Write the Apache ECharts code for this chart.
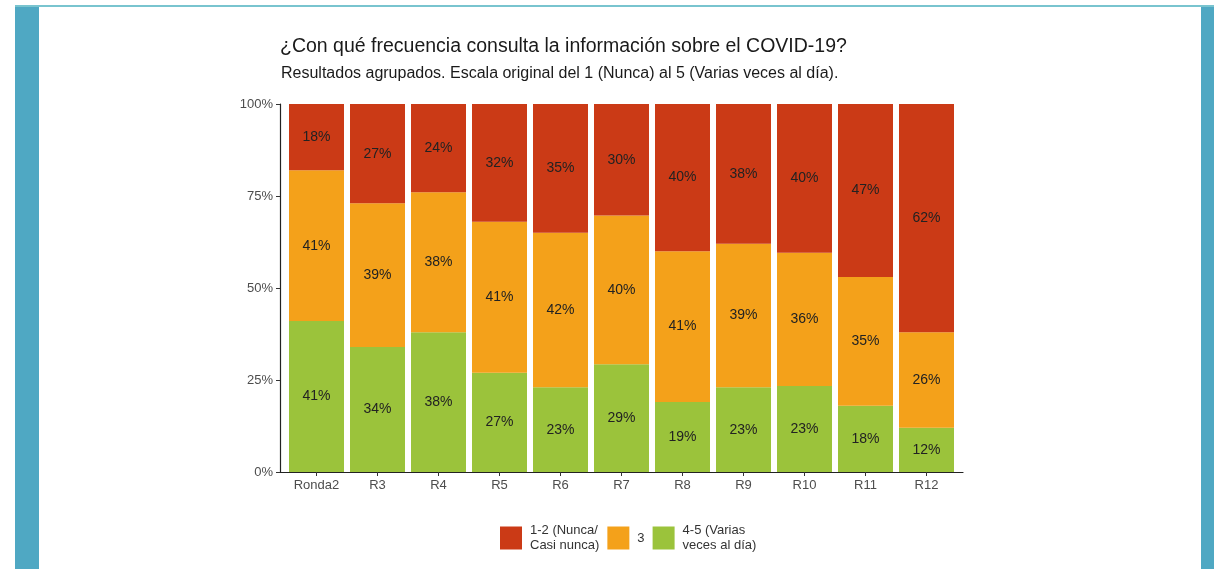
<!DOCTYPE html>
<html>
<head>
<meta charset="utf-8">
<script src="https://cdn.jsdelivr.net/npm/echarts@6/dist/echarts.min.js"></script>
<style>
  html, body { margin: 0; padding: 0; background: #ffffff; }
  #wrap { position: relative; width: 1214px; height: 569px; overflow: hidden; background: #fff; }
  .fr { position: absolute; }
  #chart { position: absolute; left: 0; top: 0; width: 1214px; height: 569px; }
</style>
</head>
<body>
<div id="wrap">
  <div class="fr" style="left:15px;top:5px;width:1199px;height:2px;background:#79c4cf;"></div>
  <div class="fr" style="left:15px;top:7px;width:24px;height:562px;background:#4fa8c3;"></div>
  <div class="fr" style="left:1201px;top:7px;width:13px;height:562px;background:#4fa8c3;"></div>
  <div id="chart"></div>
</div>
<script>
const categories = ['Ronda2', 'R3', 'R4', 'R5', 'R6', 'R7', 'R8', 'R9', 'R10', 'R11', 'R12'];
const seriesNames = ['1-2 (Nunca/\nCasi nunca)', '3', '4-5 (Varias\nveces al día)'];
const valuesHigh = [41, 34, 38, 27, 23, 29.3, 19, 23, 23.4, 18, 12];   // 4-5
const valuesMid  = [41, 39, 38, 41, 42, 40.4, 41, 39, 36.2, 35, 26];   // 3
const valuesLow  = [18, 27, 24, 32, 35, 30.3, 40, 38, 40.4, 47, 62];   // 1-2
const yTicks = [0, 25, 50, 75, 100];

const colors = { low: '#cb3a16', mid: '#f4a11a', high: '#9bc33b' };
const font = 'Liberation Sans, Arial, sans-serif';

const chart = echarts.init(document.getElementById('chart'), null, { renderer: 'canvas' });
const lbl = {
  show: true, position: 'inside', fontSize: 14, color: '#222', fontFamily: font,
  formatter: p => Math.round(p.value) + '%'
};

chart.setOption({
  animation: false,
  title: [
    { text: '¿Con qué frecuencia consulta la información sobre el COVID-19?', left: 280, top: 37, padding: 0,
      textStyle: { fontSize: 19.5, fontWeight: 'normal', color: '#1a1a1a', fontFamily: font } },
    { text: 'Resultados agrupados. Escala original del 1 (Nunca) al 5 (Varias veces al día).', left: 281, top: 66, padding: 0,
      textStyle: { fontSize: 16, fontWeight: 'normal', color: '#1a1a1a', fontFamily: font } }
  ],
  legend: {
    data: [seriesNames[0], seriesNames[1], seriesNames[2]],
    left: 495, top: 518, orient: 'horizontal',
    itemWidth: 22, itemHeight: 23, itemGap: 8, icon: 'rect',
    textStyle: { fontSize: 13, lineHeight: 15, color: '#333', fontFamily: font, padding: [0, 0, 0, 3] }
  },
  grid: [
    { left: 286, right: 257, top: 104, bottom: 97 },
    { left: 280, right: 251, top: 104, bottom: 97 }
  ],
  xAxis: [
    {
      type: 'category', data: categories, gridIndex: 0,
      axisLine: { show: false },
      axisTick: { show: true, alignWithLabel: true, length: 4, lineStyle: { color: '#333' } },
      axisLabel: { fontSize: 13, color: '#4d4d4d', margin: 7, fontFamily: font }
    },
    {
      type: 'value', gridIndex: 1, min: 0, max: 1, position: 'bottom',
      splitLine: { show: false }, axisTick: { show: false }, axisLabel: { show: false },
      axisLine: { show: true, lineStyle: { color: '#222', width: 1.2 } }
    }
  ],
  yAxis: [
    {
      type: 'value', min: 0, max: 100, interval: 25, gridIndex: 0, offset: 6,
      splitLine: { show: false },
      axisLine: { show: true, lineStyle: { color: '#222', width: 1.2 } },
      axisTick: { show: true, length: 4, lineStyle: { color: '#333' } },
      axisLabel: { formatter: v => yTicks.includes(v) ? v + '%' : '', fontSize: 13, color: '#4d4d4d', margin: 7, fontFamily: font }
    },
    {
      type: 'value', gridIndex: 1, min: 0, max: 1, show: false
    }
  ],
  series: [
    { name: seriesNames[2], type: 'bar', stack: 'total', barWidth: 55, data: valuesHigh,
      itemStyle: { color: colors.high }, label: lbl },
    { name: seriesNames[1], type: 'bar', stack: 'total', barWidth: 55, data: valuesMid,
      itemStyle: { color: colors.mid }, label: lbl },
    { name: seriesNames[0], type: 'bar', stack: 'total', barWidth: 55, data: valuesLow,
      itemStyle: { color: colors.low }, label: lbl }
  ]
});
</script>
</body>
</html>
